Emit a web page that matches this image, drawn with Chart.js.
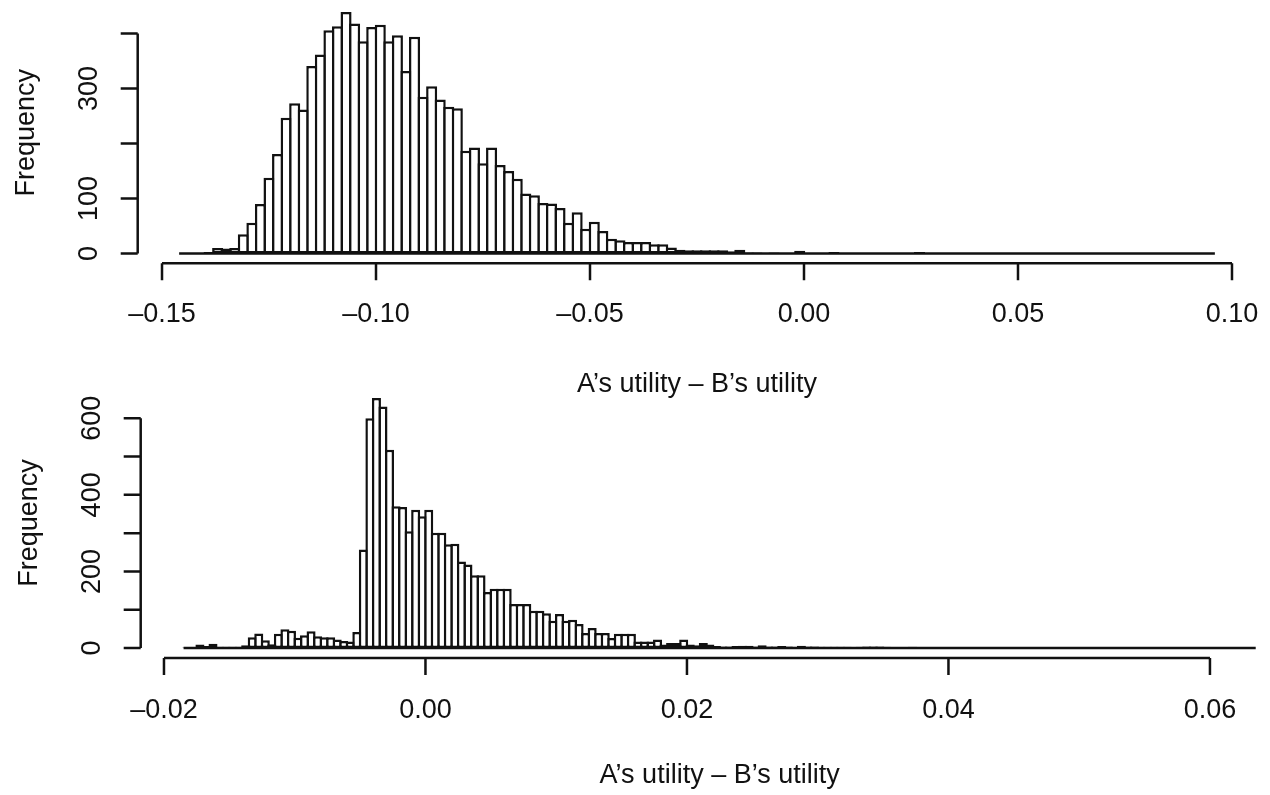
<!DOCTYPE html>
<html lang="en">

<head>
    <meta charset="UTF-8">
    <title>Utility difference histograms</title>
    <script src="https://cdn.jsdelivr.net/npm/chart.js"></script>
    <style>
        html, body { margin: 0; padding: 0; background: #fff; overflow: hidden; }
        body { width: 1270px; height: 795px; position: relative; }
        .painel { position: absolute; left: 0; }
        #painelTopo { top: 0; width: 1270px; height: 420px; }
        #painelBaixo { top: 370px; width: 1300px; height: 425px; }
    </style>
</head>

<body>
    <div id="painelTopo" class="painel"><canvas id="histTopo" width="1270" height="420"></canvas></div>
    <div id="painelBaixo" class="painel"><canvas id="histBaixo" width="1300" height="425"></canvas></div>
</body>

</html>

<script>
    // top histogram: breaks every 0.002 from -0.146 up to 0.096
    const topBinStart = -0.146;
    const topBinWidth = 0.002;
    const topCounts = [
        0, 0, 0, 3, 10, 9, 10, 35, 56, 90,
        138, 181, 247, 273, 262, 341, 362, 406, 413, 439,
        418, 386, 412, 416, 386, 397, 332, 394, 285, 304,
        280, 267, 264, 187, 193, 164, 193, 161, 150, 136,
        109, 106, 92, 91, 83, 56, 75, 45, 58, 41,
        27, 24, 21, 21, 21, 17, 17, 11, 7, 6,
        6, 6, 6, 6, 4, 7, 2, 2, 1, 2,
        1, 1, 5, 0, 0, 0, 3, 0, 0, 0,
        0, 0, 0, 0, 0, 0, 3, 0, 0, 0,
        0, 0, 0, 0, 0, 0, 0, 0, 0, 0,
        0, 0, 0, 0, 0, 0, 0, 0, 0, 0,
        0, 0, 0, 0, 0, 0, 0, 0, 0, 0,
        0
    ];
    const topXTicks = [-0.15, -0.10, -0.05, 0.00, 0.05, 0.10];
    const topXTickLabels = ['\u20130.15', '\u20130.10', '\u20130.05', '0.00', '0.05', '0.10'];
    const topYTicks = [0, 100, 200, 300, 400];
    const topYTickLabels = ['0', '100', '', '300', ''];

    // bottom histogram: breaks every 0.0005 from -0.0185 up to 0.0635
    const bottomBinStart = -0.0185;
    const bottomBinWidth = 0.0005;
    const bottomCounts = [
        1, 1, 9, 5, 11, 3, 3, 3, 3, 7,
        28, 38, 20, 10, 37, 49, 45, 27, 33, 44,
        31, 28, 28, 22, 18, 17, 42, 257, 600, 653,
        631, 518, 370, 368, 305, 361, 344, 361, 301, 301,
        271, 272, 226, 218, 190, 190, 146, 155, 155, 155,
        115, 115, 115, 97, 97, 91, 71, 89, 71, 74,
        63, 39, 52, 39, 39, 26, 37, 37, 37, 17,
        17, 17, 22, 9, 13, 13, 22, 9, 7, 13,
        9, 5, 4, 4, 5, 6, 6, 4, 7, 4,
        4, 5, 4, 3, 6, 4, 4, 3, 3, 3,
        3, 3, 2, 3, 4, 4, 4, 3, 2, 2,
        0, 3, 0, 2, 2, 0, 2, 0, 0, 0,
        0, 0, 0, 0, 0, 0, 0, 0, 0, 0,
        0, 0, 0, 0, 0, 0, 0, 0, 0, 0,
        0, 0, 0, 0, 0, 0, 0, 0, 0, 0,
        0, 0, 0, 0, 0, 0, 0, 0, 0, 0,
        0, 0, 0, 0
    ];
    const bottomXTicks = [-0.02, 0.00, 0.02, 0.04, 0.06];
    const bottomXTickLabels = ['\u20130.02', '0.00', '0.02', '0.04', '0.06'];
    const bottomYTicks = [0, 100, 200, 300, 400, 500, 600];
    const bottomYTickLabels = ['0', '', '200', '', '400', '', '600'];

    const xTitle = 'A\u2019s utility \u2013 B\u2019s utility';
    const yTitle = 'Frequency';

    const fonte = '27px "Liberation Sans", Arial, sans-serif';
    const traco = 2.5;

    // draws the axes the way R's hist() does: line only from first to last tick
    const eixosR = {
        id: 'eixosR',
        afterDraw(chart, args, o) {
            const ctx = chart.ctx;
            const x = chart.scales.x;
            const y = chart.scales.y;
            const area = chart.chartArea;
            ctx.save();
            ctx.strokeStyle = '#111';
            ctx.fillStyle = '#111';
            ctx.lineWidth = traco;
            ctx.font = fonte;
            ctx.textAlign = 'center';
            ctx.textBaseline = 'middle';

            // x axis
            const yb = area.bottom;
            ctx.beginPath();
            ctx.moveTo(x.getPixelForValue(o.xTicks[0]), yb);
            ctx.lineTo(x.getPixelForValue(o.xTicks[o.xTicks.length - 1]), yb);
            o.xTicks.forEach((v) => {
                const px = x.getPixelForValue(v);
                ctx.moveTo(px, yb);
                ctx.lineTo(px, yb + 17);
            });
            ctx.stroke();
            o.xTicks.forEach((v, i) => {
                ctx.fillText(o.xLabels[i], x.getPixelForValue(v), yb + o.xLabelGap);
            });
            ctx.fillText(o.xTitle, (area.left + area.right) / 2, yb + o.xTitleGap);

            // y axis
            const xl = area.left;
            ctx.beginPath();
            ctx.moveTo(xl, y.getPixelForValue(o.yTicks[0]));
            ctx.lineTo(xl, y.getPixelForValue(o.yTicks[o.yTicks.length - 1]));
            o.yTicks.forEach((v) => {
                const py = y.getPixelForValue(v);
                ctx.moveTo(xl, py);
                ctx.lineTo(xl - 17, py);
            });
            ctx.stroke();
            o.yTicks.forEach((v, i) => {
                if (!o.yLabels[i]) return;
                ctx.save();
                ctx.translate(xl - 48, y.getPixelForValue(v));
                ctx.rotate(-Math.PI / 2);
                ctx.fillText(o.yLabels[i], 0, 0);
                ctx.restore();
            });
            ctx.save();
            ctx.translate(xl - 111, (area.top + area.bottom) / 2);
            ctx.rotate(-Math.PI / 2);
            ctx.fillText(o.yTitle, 0, 0);
            ctx.restore();

            ctx.restore();
        }
    };

    function montarHistograma(idCanvas, binStart, binWidth, counts, eixos, padding) {
        let pontos = [];
        for (let i = 0; i < counts.length; i++) {
            pontos.push({ x: binStart + binWidth * (i + 0.5), y: counts[i] });
        }
        const binEnd = binStart + binWidth * counts.length;
        const span = binEnd - binStart;
        const ymax = Math.max(...counts);

        // bar width in pixels, so neighbouring bars share one outline
        const canvas = document.getElementById(idCanvas);
        const larguraArea = canvas.width - padding.left - padding.right;
        const binPx = larguraArea * binWidth / (span * 1.08);

        new Chart(canvas, {
            type: 'bar',
            data: {
                datasets: [{
                    type: 'line',
                    data: [{ x: binStart, y: 0 }, { x: binEnd, y: 0 }],
                    borderColor: '#111',
                    borderWidth: traco,
                    pointRadius: 0
                }, {
                    data: pontos,
                    backgroundColor: '#fff',
                    borderColor: '#111',
                    borderWidth: traco,
                    borderSkipped: false,
                    inflateAmount: 0,
                    categoryPercentage: 1,
                    barPercentage: (binPx + traco) / binPx
                }]
            },
            options: {
                responsive: false,
                animation: false,
                events: [],
                layout: { padding: padding },
                scales: {
                    x: {
                        type: 'linear',
                        display: false,
                        offset: false,
                        min: binStart - 0.04 * span,
                        max: binEnd + 0.04 * span
                    },
                    y: {
                        display: false,
                        min: -0.04 * ymax,
                        max: 1.04 * ymax
                    }
                },
                plugins: {
                    legend: { display: false },
                    tooltip: { enabled: false },
                    eixosR: eixos
                }
            },
            plugins: [eixosR]
        });
    }

    montarHistograma('histTopo', topBinStart, topBinWidth, topCounts, {
        xTicks: topXTicks, xLabels: topXTickLabels,
        yTicks: topYTicks, yLabels: topYTickLabels,
        xTitle: xTitle, yTitle: yTitle,
        xLabelGap: 51, xTitleGap: 121
    }, { left: 137.7, right: 13.7, top: 2.4, bottom: 156.8 });

    montarHistograma('histBaixo', bottomBinStart, bottomBinWidth, bottomCounts, {
        xTicks: bottomXTicks, xLabels: bottomXTickLabels,
        yTicks: bottomYTicks, yLabels: bottomYTickLabels,
        xTitle: xTitle, yTitle: yTitle,
        xLabelGap: 53, xTitleGap: 118
    }, { left: 140.7, right: 1.4, top: 18, bottom: 137 });
</script>
